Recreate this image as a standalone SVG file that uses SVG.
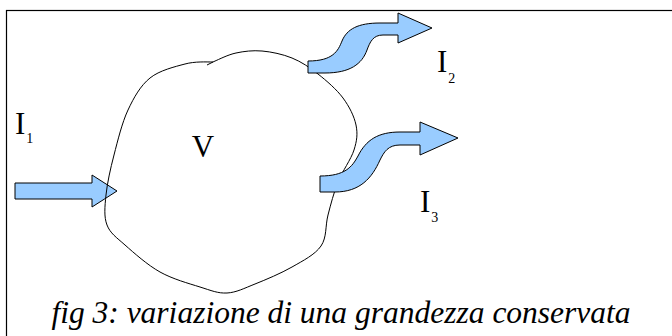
<svg xmlns="http://www.w3.org/2000/svg" width="672" height="336" viewBox="0 0 672 336">
<style>
.arrow{fill:#99ccff;stroke:#000;stroke-width:1;stroke-linejoin:miter}
.blob{fill:none;stroke:#000;stroke-width:1}
</style>
<rect width="672" height="336" fill="#fff"/>
<rect x="6.5" y="10.5" width="700" height="400" fill="none" stroke="#000" stroke-width="1.2"/>
<g id="flows">
<path id="arrowI1" class="arrow" d="M15,183 L92,183 L92,175 L117,191 L92,207 L92,199 L15,199 Z"/>
</g>
<g id="volume">
<path class="blob" d="M207,65 L214,61.5 C219.2,59.3 228,54.7 236,53 C244,51.3 252.7,50.2 262,51 C271.3,51.8 282.7,54.2 292,58 C301.3,61.8 309.5,67.3 318,74 C326.5,80.7 336.7,89.5 343,98 C349.3,106.5 354.2,116.3 356,125 C357.8,133.7 357,140.5 354,150 C351,159.5 342.3,171.2 338,182 C333.7,192.8 330.8,204.3 328,215 C325.2,225.7 327,237.3 321,246 C315,254.7 303,260.7 292,267 C281,273.3 265.8,279.7 255,284 C244.2,288.3 236.2,292.5 227,293 C217.8,293.5 211.2,290.5 200,287 C188.8,283.5 172.5,279 160,272 C147.5,265 133.8,252.8 125,245 C116.2,237.2 110.2,233.3 107,225 C103.8,216.7 104.8,206.7 106,195 C107.2,183.3 110.3,169.2 114,155 C117.7,140.8 122,122.8 128,110 C134,97.2 140.5,85.7 150,78 C159.5,70.3 175,66.7 185,64 C195,61.3 206,62 213,62"/>
</g>
<g id="outflows">
<path id="arrowI2" class="arrow" d="M308,61 C333,61 338,51 342,41 C347,29 358,23 380,23 L398,23 L398,13 L432,28 L398,43 L398,35 L383,35 C373,35 370,42 367,50 C362,64 350,73 325,73 L308,73 Z"/>
<path id="arrowI3" class="arrow" d="M320,176 C345,176 352,167 358,156 C366,140 378,132 400,132 L420,132 L420,122 L458,138 L420,155 L420,145 L400,145 C388,145 384,152 380,160 C372,178 360,192 335,192 L320,192 Z"/>
</g>
<g id="labels" font-family="'Liberation Serif', 'Times New Roman', serif" fill="#000">
<text font-size="31" x="203" y="157" text-anchor="middle">V</text>
<text x="15" y="134"><tspan font-size="31">I</tspan><tspan font-size="14" dx="1" dy="9">1</tspan></text>
<text x="437" y="72"><tspan font-size="31">I</tspan><tspan font-size="14" dx="1" dy="11">2</tspan></text>
<text x="420" y="212"><tspan font-size="31">I</tspan><tspan font-size="14" dx="1" dy="10">3</tspan></text>
</g>
<text font-family="'Liberation Serif', 'Times New Roman', serif" font-style="italic" font-size="31.5" fill="#000" x="341" y="323" text-anchor="middle">fig 3: variazione di una grandezza conservata</text>
</svg>
